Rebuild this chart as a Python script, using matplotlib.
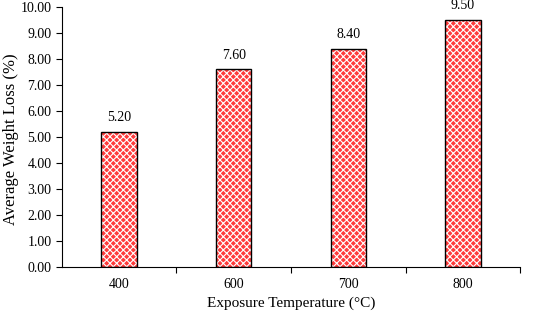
import matplotlib.pyplot as plt
import matplotlib as mpl

# data
temperatures = ["400", "600", "700", "800"]
weight_loss = [5.20, 7.60, 8.40, 9.50]
y_ticks = [0, 1, 2, 3, 4, 5, 6, 7, 8, 9, 10]

plt.rcParams["font.family"] = ["Liberation Serif", "DejaVu Serif"]
mpl.rcParams["hatch.linewidth"] = 0.8

fig = plt.figure(figsize=(5.33, 3.15), dpi=100)
ax = fig.add_axes([0.116, 0.152, 0.860, 0.826])

x = range(len(temperatures))
# red face with white dotted hatch, then black outline on top
ax.bar(x, weight_loss, width=0.31, color="#ff3b3b", edgecolor="white",
       hatch="xxxxx", linewidth=0, zorder=2)
ax.bar(x, weight_loss, width=0.31, fill=False, edgecolor="black",
       linewidth=1.0, zorder=3)

for xi, v in zip(x, weight_loss):
    ax.text(xi, v + 0.3, f"{v:.2f}", ha="center", va="bottom", fontsize=10)

ax.set_xlim(-0.5, len(temperatures) - 0.5)
ax.set_ylim(0, 10)
ax.set_yticks(y_ticks)
ax.set_yticklabels([f"{t:.2f}" for t in y_ticks])
ax.set_xticks(x)
ax.set_xticklabels(temperatures)
ax.set_xticks([i + 0.5 for i in x], minor=True)
ax.tick_params(axis="x", which="major", length=0, labelsize=10, pad=8)
ax.tick_params(axis="x", which="minor", length=4, direction="out", width=0.8)
ax.tick_params(axis="y", length=4, direction="out", width=0.8, labelsize=10)

ax.spines["top"].set_visible(False)
ax.spines["right"].set_visible(False)
ax.spines["left"].set_linewidth(0.8)
ax.spines["bottom"].set_linewidth(0.8)

ax.set_xlabel("Exposure Temperature (°C)", fontsize=11, labelpad=4)
ax.set_ylabel("Average Weight Loss (%)", fontsize=12)
ax.yaxis.set_label_coords(-0.094, 0.49)

fig.savefig("out.png", dpi=100)
